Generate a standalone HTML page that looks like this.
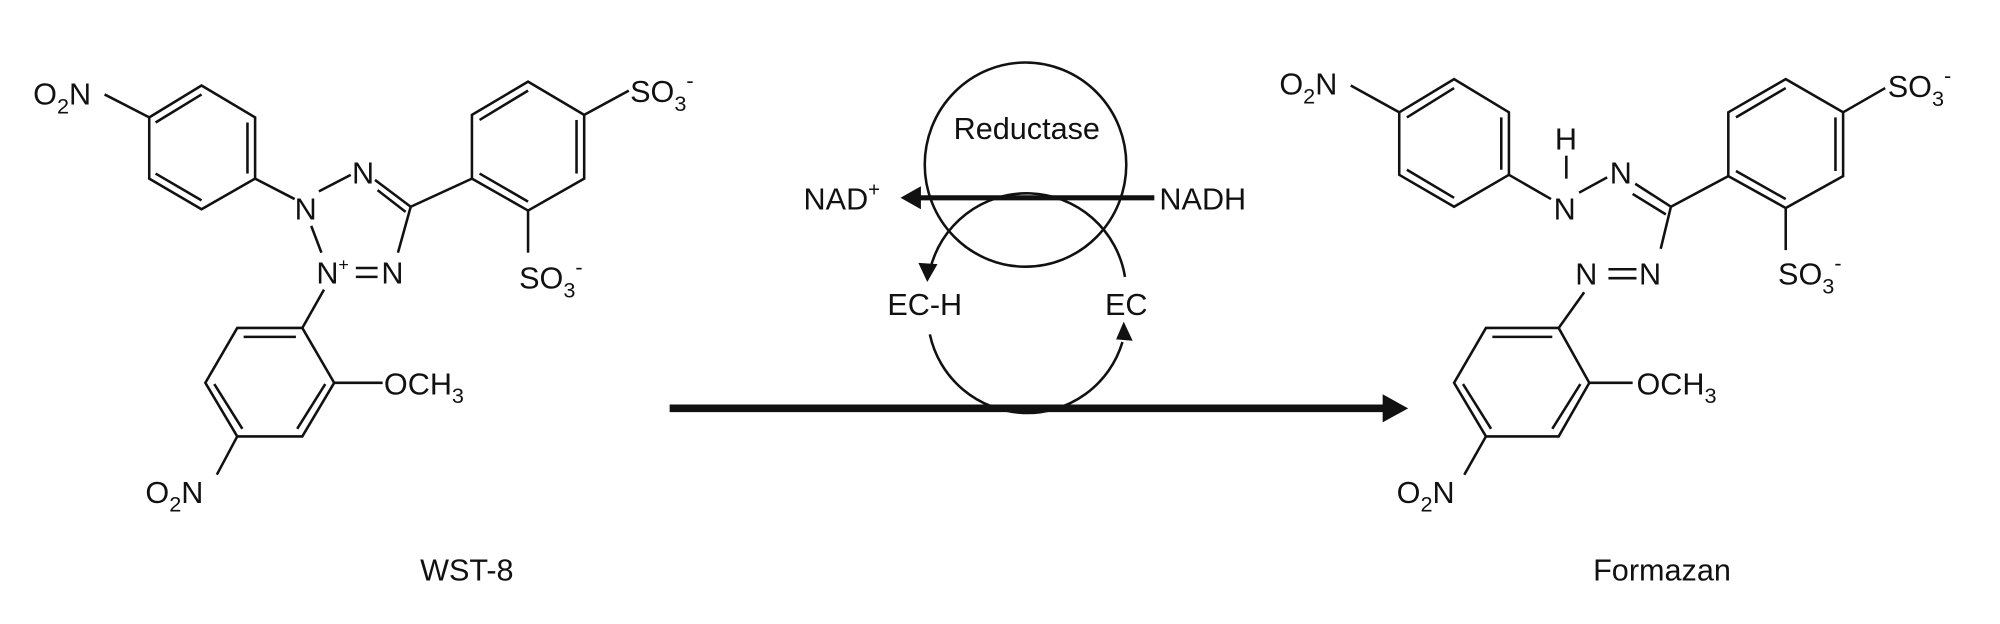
<!DOCTYPE html>
<html><head><meta charset="utf-8"><style>
html,body{margin:0;padding:0;background:#fff;}
svg{display:block;}
text{font-family:"Liberation Sans",sans-serif;font-size:24px;fill:#111;}
</style></head><body>
<svg width="2000" height="624" viewBox="0 0 1568 489" preserveAspectRatio="none" xmlns="http://www.w3.org/2000/svg">
<g stroke="#111" stroke-width="2" fill="none" stroke-linecap="butt">
<!-- ===== WST-8 ===== -->
<polygon points="117,92 158,67 200,92 200,140 158,164 117,140"/>
<line x1="122" y1="96" x2="158" y2="74"/>
<line x1="194" y1="96" x2="194" y2="136"/>
<line x1="122" y1="136" x2="158" y2="157"/>
<line x1="82" y1="74" x2="117" y2="92"/>
<line x1="200" y1="140" x2="231" y2="156"/>
<line x1="250" y1="150" x2="275" y2="137"/>
<line x1="294" y1="141" x2="322" y2="162"/>
<line x1="296" y1="149" x2="318" y2="166"/>
<line x1="322" y1="162" x2="312" y2="198"/>
<line x1="244" y1="177" x2="252" y2="198"/>
<line x1="279" y1="210" x2="296" y2="210"/>
<line x1="279" y1="217" x2="296" y2="217"/>
<line x1="254" y1="227" x2="237" y2="257"/>
<line x1="322" y1="162" x2="370" y2="140"/>
<polygon points="370,90 414,64 458,90 458,140 414,165 370,140"/>
<line x1="376" y1="94" x2="414" y2="71"/>
<line x1="452" y1="94" x2="452" y2="136"/>
<line x1="376" y1="136" x2="414" y2="158"/>
<line x1="458" y1="90" x2="493" y2="71"/>
<line x1="414" y1="165" x2="414" y2="198"/>
<polygon points="186,257 237,257 262,300 237,342 186,342 161,300"/>
<line x1="191" y1="264" x2="232" y2="264"/>
<line x1="168" y1="301" x2="190" y2="336"/>
<line x1="255" y1="301" x2="233" y2="336"/>
<line x1="262" y1="300" x2="300" y2="300"/>
<line x1="186" y1="342" x2="170" y2="372"/>

<!-- ===== Middle ===== -->
<ellipse cx="804" cy="129" rx="79" ry="80"/>
<path d="M 882 217 A 78 78 0 0 0 729 212"/>
<path d="M 729 262 A 78 78 0 0 0 880 268"/>
<line x1="905" y1="155" x2="718" y2="155" stroke-width="4"/>
<line x1="525" y1="320" x2="1088" y2="320" stroke-width="6"/>

<!-- ===== Formazan ===== -->
<polygon points="1097,88 1140,62 1183,88 1183,137 1140,162 1097,137"/>
<line x1="1103" y1="92" x2="1140" y2="69"/>
<line x1="1177" y1="92" x2="1177" y2="133"/>
<line x1="1103" y1="133" x2="1140" y2="155"/>
<line x1="1059" y1="67" x2="1097" y2="88"/>
<line x1="1183" y1="137" x2="1216" y2="156"/>
<line x1="1228" y1="122" x2="1228" y2="140"/>
<line x1="1238" y1="151" x2="1260" y2="139"/>
<line x1="1282" y1="144" x2="1310" y2="162"/>
<line x1="1280" y1="152" x2="1306" y2="168"/>
<line x1="1310" y1="162" x2="1355" y2="138"/>
<line x1="1310" y1="162" x2="1302" y2="195"/>
<line x1="1261" y1="211" x2="1283" y2="211"/>
<line x1="1261" y1="218" x2="1283" y2="218"/>
<line x1="1242" y1="229" x2="1222" y2="257"/>
<polygon points="1355,88 1400,62 1445,88 1445,138 1400,163 1355,138"/>
<line x1="1361" y1="92" x2="1400" y2="69"/>
<line x1="1439" y1="92" x2="1439" y2="134"/>
<line x1="1361" y1="134" x2="1400" y2="156"/>
<line x1="1445" y1="88" x2="1478" y2="69"/>
<line x1="1400" y1="163" x2="1400" y2="196"/>
<polygon points="1165,257 1222,257 1246,300 1222,342 1165,342 1140,300"/>
<line x1="1170" y1="264" x2="1217" y2="264"/>
<line x1="1147" y1="301" x2="1169" y2="336"/>
<line x1="1239" y1="301" x2="1217" y2="336"/>
<line x1="1246" y1="300" x2="1280" y2="300"/>
<line x1="1165" y1="342" x2="1148" y2="372"/>
</g>
<g fill="#111">
<polygon points="706,155 722,146 722,164"/>
<polygon points="1104,320 1084,309 1084,331"/>
<polygon points="727,221 720,206 735,207"/>
<polygon points="881,252 875,266 888,267"/>
</g>
<g>
<text x="26" y="82">O<tspan font-size="17" dy="7">2</tspan><tspan dy="-7">N</tspan></text>
<text x="231" y="172">N</text>
<text x="276" y="144">N</text>
<text x="248" y="222">N<tspan font-size="14" dy="-10">+</tspan></text>
<text x="299" y="222">N</text>
<text x="494" y="80">SO<tspan font-size="17" dy="7">3</tspan><tspan font-size="17" dy="-18">-</tspan></text>
<text x="407" y="226">SO<tspan font-size="17" dy="7">3</tspan><tspan font-size="17" dy="-18">-</tspan></text>
<text x="301" y="309">OCH<tspan font-size="17" dy="7">3</tspan></text>
<text x="114" y="394">O<tspan font-size="17" dy="7">2</tspan><tspan dy="-7">N</tspan></text>
<text x="366" y="455" text-anchor="middle" font-size="27">WST-8</text>

<text x="805" y="109" text-anchor="middle" font-size="27">Reductase</text>
<text x="630" y="164" font-size="25">NAD<tspan font-size="16" dy="-10">+</tspan></text>
<text x="909" y="164" font-size="25">NADH</text>
<text x="725" y="247" text-anchor="middle" font-size="25">EC-H</text>
<text x="883" y="247" text-anchor="middle" font-size="25">EC</text>

<text x="1003" y="74">O<tspan font-size="17" dy="7">2</tspan><tspan dy="-7">N</tspan></text>
<text x="1219" y="117">H</text>
<text x="1218" y="172">N</text>
<text x="1262" y="144">N</text>
<text x="1235" y="223">N</text>
<text x="1285" y="223">N</text>
<text x="1480" y="76">SO<tspan font-size="17" dy="7">3</tspan><tspan font-size="17" dy="-18">-</tspan></text>
<text x="1394" y="223">SO<tspan font-size="17" dy="7">3</tspan><tspan font-size="17" dy="-18">-</tspan></text>
<text x="1283" y="309">OCH<tspan font-size="17" dy="7">3</tspan></text>
<text x="1095" y="394">O<tspan font-size="17" dy="7">2</tspan><tspan dy="-7">N</tspan></text>
<text x="1303" y="455" text-anchor="middle" font-size="27">Formazan</text>
</g>
</svg>
</body></html>
